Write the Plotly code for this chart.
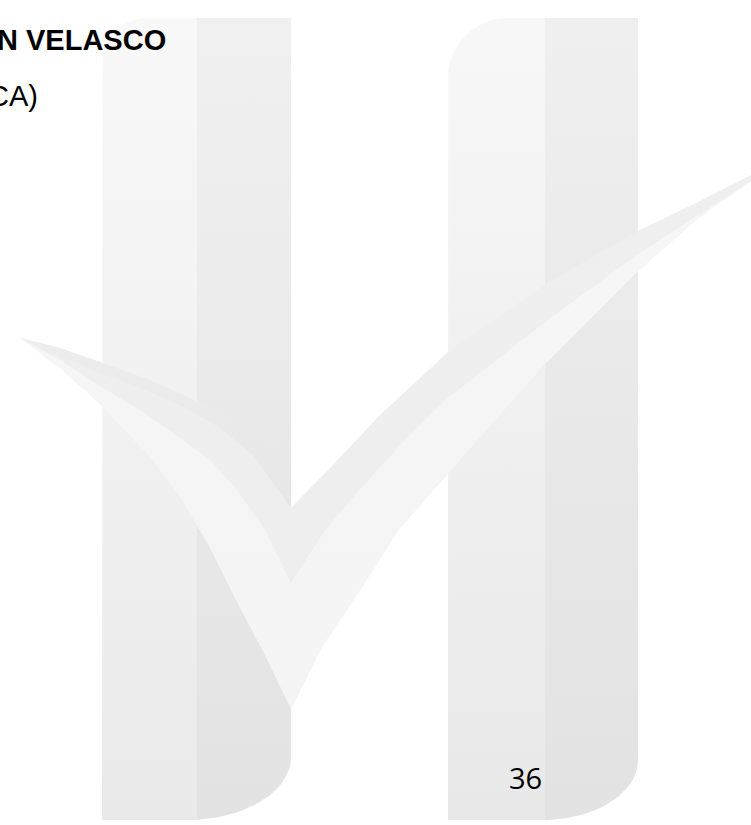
import numpy as np
import plotly.graph_objects as go

# ---- page texts ----
header_bold = "N VELASCO"
header_line2 = "CA)"
page_number = "36"

# ---- watermark geometry (page pixel coordinates) ----
pillar_left = dict(x0=102, x1=291, xmid=197, top=18, bottom=820, r_top=45, bx=187, by=757)
pillar_right = dict(x0=448, x1=638, xmid=545, top=18, bottom=820, r_top=60, bx=543, by=760)

check_upper_left = [(20, 338), (60, 348), (100, 362), (150, 380), (200, 403), (250, 430), (291, 457)]
check_notch_outer = [(291, 508)]
check_upper_right = [(330, 468), (380, 415), (448, 352), (544, 285), (638, 231), (700, 201), (751, 175)]
check_lower_right = [(751, 181), (700, 217), (638, 271), (544, 365), (448, 474), (400, 528), (362, 587), (320, 650), (291, 709)]
check_lower_left = [(265, 655), (235, 598), (207, 542), (180, 497), (150, 457), (100, 404), (60, 368), (20, 338)]
shadow_inner = [(253, 455), (220, 428), (180, 405), (140, 388), (100, 373), (60, 356), (20, 338)]
light_upper_left = [(20, 338), (60, 360), (100, 386), (140, 410), (180, 438), (210, 460), (235, 487), (265, 530), (291, 583)]
light_upper_right = [(325, 530), (362, 487), (405, 440), (448, 398), (544, 323), (638, 254), (700, 214), (751, 181)]


def pillar_halves(p):
    t = np.linspace(np.pi, 1.5 * np.pi, 20)
    cx, cy = p["x0"] + p["r_top"], p["top"] + p["r_top"]
    arc_top = list(zip(cx + p["r_top"] * np.cos(t), cy + p["r_top"] * np.sin(t)))
    rx, ry = p["x1"] - p["bx"], p["bottom"] - p["by"]
    s = np.linspace(0, 0.5 * np.pi, 30)
    arc_bot = list(zip(p["bx"] + rx * np.cos(s), p["by"] + ry * np.sin(s)))
    left = [(p["x0"], p["bottom"])] + arc_top + [(p["xmid"], p["top"]), (p["xmid"], p["bottom"])]
    arc_bot_r = [(x, y) for x, y in arc_bot if x >= p["xmid"]]
    right = [(p["xmid"], p["top"]), (p["x1"], p["top"])] + arc_bot_r + [(p["xmid"], arc_bot_r[-1][1])]
    return left, right


def poly_trace(pts, c_top, c_bot, y0, y1):
    xs = [a for a, b in pts] + [pts[0][0]]
    ys = [b for a, b in pts] + [pts[0][1]]
    return go.Scatter(
        x=xs, y=ys, mode="lines", fill="toself", line=dict(width=0),
        fillgradient=dict(type="vertical", colorscale=[[0, c_top], [1, c_bot]], start=y0, stop=y1),
        hoverinfo="skip", showlegend=False,
    )


fig = go.Figure()

ll, lr = pillar_halves(pillar_left)
rl, rr = pillar_halves(pillar_right)
fig.add_trace(poly_trace(ll, "#F8F8F9", "#E9E9EA", 18, 820))
fig.add_trace(poly_trace(lr, "#F0F0F1", "#E2E2E3", 18, 820))
fig.add_trace(poly_trace(rl, "#F7F7F8", "#E8E8E9", 18, 820))
fig.add_trace(poly_trace(rr, "#EFEFF0", "#E2E2E3", 18, 820))

full_check = check_upper_left + check_notch_outer + check_upper_right + check_lower_right + check_lower_left
fig.add_trace(poly_trace(full_check, "#EFEFF0", "#EDEDEE", 170, 710))
shadow = check_upper_left + check_notch_outer + shadow_inner
fig.add_trace(poly_trace(shadow, "#EDEDEE", "#E6E6E7", 330, 510))
light = light_upper_left + light_upper_right + check_lower_right + check_lower_left
fig.add_trace(poly_trace(light, "#F6F6F7", "#F4F4F5", 170, 710))

fig.add_annotation(x=168, y=39.5, text=header_bold, showarrow=False, xanchor="right", yanchor="middle",
                   font=dict(family="Liberation Sans, Arial", size=29, color="#000000", weight="bold"))
fig.add_annotation(x=40, y=96, text=header_line2, showarrow=False, xanchor="right", yanchor="middle",
                   font=dict(family="Liberation Sans, Arial", size=29, color="#000000"))
fig.add_annotation(x=525, y=777.5, text=page_number, showarrow=False, xanchor="center", yanchor="middle",
                   font=dict(family="Open Sans", size=29, color="#000000"))

fig.update_xaxes(range=[0, 751], visible=False, fixedrange=True)
fig.update_yaxes(range=[825, 0], visible=False, fixedrange=True)
fig.update_layout(width=751, height=825, autosize=False, margin=dict(l=0, r=0, t=0, b=0),
                  paper_bgcolor="#FFFFFF", plot_bgcolor="#FFFFFF")

fig.write_html("out.html", config={"displayModeBar": False},
               post_script="document.body.style.margin='0';document.body.style.overflow='hidden';")
